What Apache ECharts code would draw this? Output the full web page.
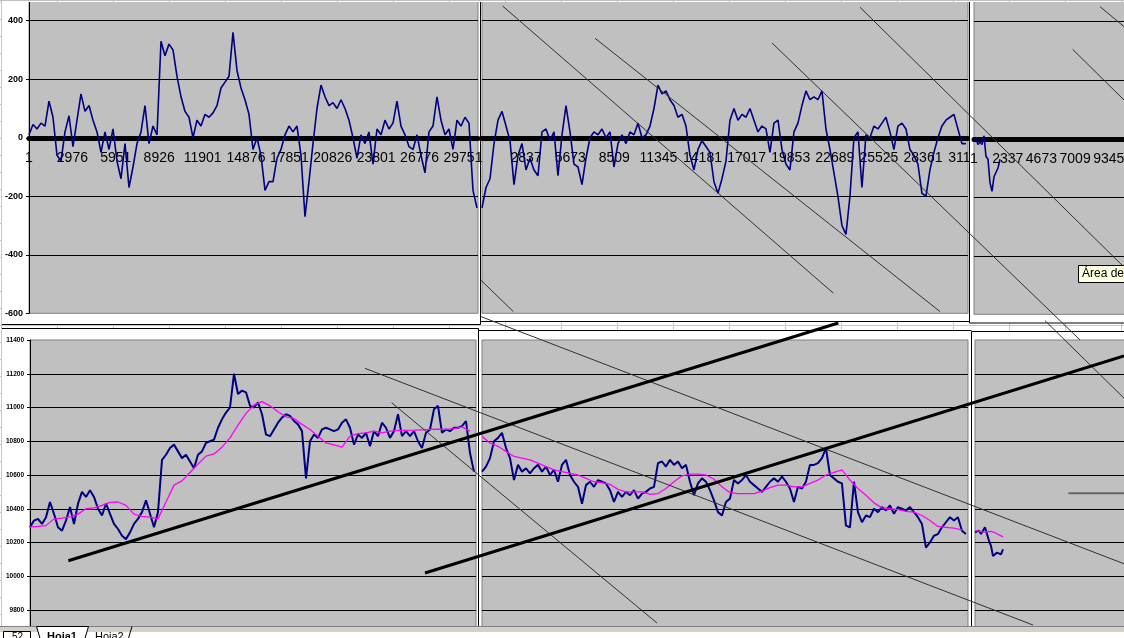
<!DOCTYPE html>
<html><head><meta charset="utf-8">
<script src="https://cdn.jsdelivr.net/npm/echarts@6/dist/echarts.min.js"></script>
<style>html,body{margin:0;padding:0;background:#fff;overflow:hidden}#c{width:1124px;height:638px}</style>
</head><body><div id="c"></div>
<script>
// ================= DATA =================
// Oscillator (top row), one value every sample step
const oscA = [
  10, 45, 30, 50, 40, 125, 70, -60, -80, 20,
  75, -30, 60, 150, 90, 110, 60, 20, -50, 20,
  -40, 30, -80, -140, -20, -170, -100, -20, 20, 110,
  -20, 40, 10, 330, 280, 320, 300, 210, 140, 90,
  70, 0, 60, 40, 80, 70, 85, 110, 170, 190,
  210, 360, 230, 170, 130, 80, -40, 0, -60, -180,
  -150, -150, -70, -40, 10, 40, 20, 40, -60, -270,
  -150, -20, 100, 180, 140, 110, 120, 100, 130, 100,
  60, 0, -70, 10, -20, 20, -90, 30, 10, 60,
  30, 50, 125, 40, 10, -30, -40, 10, -60, -120,
  20, 40, 140, 60, 10, 30, -40, 60, 40, 70,
  50, -180, -240
];
const oscB = [
  -240, -170, -140, -20, 60, 90, 40, -10, -160, -60,
  -20, -110, -70, -110, -130, 20, 30, -10, 20, -130,
  10, 110, 20, -90, -100, -160, -70, 0, 20, 10,
  30, 0, 20, -100, -20, 10, -20, 20, 10, 50,
  0, 10, 40, 100, 180, 150, 160, 130, 110, 70,
  80, 40, -60, -110, -40, -10, -30, -50, -150, -190,
  -140, -80, 60, 100, 60, 80, 70, 100, 60, 20,
  40, 30, -50, 50, 60, -40, -90, -110, 20, 50,
  110, 160, 130, 140, 130, 160, 30, -40, -120, -200,
  -300, -330, -200, 0, 20, -170, 10, 0, 40, 30,
  50, 70, 20, -40, 40, 50, 30, -40, -60, -90,
  -190, -200, -110, -50, 0, 40, 60, 70, 80, 30,
  -20, -20
];
const oscC = [-10, 0, -20, -10, -20, 10, -60, -70, -150, -180, -130, -130, -100, -70];

// Price (bottom row) and its moving average
const priceD = [
  10290, 10330, 10340, 10310, 10350, 10440, 10370, 10290, 10270, 10330,
  10410, 10310, 10430, 10500, 10470, 10510, 10470, 10400, 10360, 10430,
  10370, 10310, 10280, 10240, 10220, 10260, 10310, 10340, 10380, 10450,
  10370, 10290, 10380, 10690, 10720, 10760, 10780, 10740, 10700, 10720,
  10680, 10640, 10720, 10740, 10790, 10800, 10810, 10880, 10930, 10970,
  11000, 11200, 11080, 11100, 11090, 11010, 11000, 11030, 10960, 10840,
  10830, 10870, 10910, 10940, 10960, 10950, 10920, 10900, 10860, 10580,
  10800, 10840, 10820, 10870, 10880, 10870, 10860, 10870, 10910, 10930,
  10880, 10780, 10840, 10820, 10850, 10770, 10860, 10830, 10910, 10880,
  10820, 10860, 10960, 10830, 10860, 10830, 10860, 10800, 10760, 10850,
  10870, 10990, 11010, 10850, 10870, 10860, 10880, 10880, 10890, 10920,
  10730, 10620
];
const avgD = [
  10292, 10295, 10300, 10340, 10345, 10352, 10368, 10400, 10405, 10420,
  10438, 10440, 10420, 10368, 10355, 10350, 10340, 10440, 10540, 10565,
  10615, 10665, 10712, 10725, 10765, 10820, 10895, 10965, 11015, 11035,
  11010, 10975, 10945, 10935, 10900, 10870, 10830, 10790, 10778, 10765,
  10830, 10845, 10850, 10860, 10850, 10860, 10865, 10865, 10866, 10868,
  10870, 10872, 10870, 10875, 10885, 10860
];
const priceE = [
  10620, 10650, 10700, 10800, 10820, 10850, 10760, 10700, 10570, 10660,
  10620, 10640, 10610, 10640, 10660, 10620, 10650, 10600, 10630, 10560,
  10660, 10690, 10600, 10560, 10530, 10430, 10540, 10560, 10530, 10570,
  10560, 10550, 10510, 10440, 10500, 10470, 10500, 10480, 10510, 10460,
  10490, 10500, 10520, 10530, 10670, 10680, 10650, 10690, 10660, 10680,
  10640, 10660, 10560, 10480, 10550, 10580, 10560, 10510, 10450, 10380,
  10360, 10440, 10460, 10570, 10550, 10570, 10600, 10560, 10540, 10520,
  10500, 10530, 10560, 10580, 10560, 10590, 10560, 10520, 10440, 10530,
  10520, 10560, 10660, 10660, 10670, 10700, 10760, 10600, 10580, 10560,
  10550, 10300, 10290, 10560, 10380, 10320, 10360, 10350, 10400, 10380,
  10410, 10390, 10420, 10370, 10410, 10400, 10390, 10410, 10380, 10350,
  10310, 10170, 10200, 10240, 10250, 10290, 10320, 10350, 10330, 10350,
  10270, 10250
];
const avgE = [
  10830, 10790, 10770, 10740, 10710, 10700, 10690, 10670, 10650, 10630,
  10620, 10610, 10600, 10580, 10560, 10555, 10545, 10515, 10500, 10500,
  10500, 10485, 10490, 10520, 10560, 10595, 10605, 10605, 10600, 10575,
  10530, 10495, 10490, 10490, 10490, 10505, 10525, 10540, 10540, 10530,
  10530, 10550, 10570, 10600, 10615, 10630, 10570, 10520, 10480, 10435,
  10405, 10400, 10395, 10385, 10380, 10360, 10330, 10295, 10290, 10285,
  10275
];
const priceF = [10260, 10250, 10270, 10250, 10260, 10290, 10250, 10210, 10180, 10120, 10110, 10140, 10150, 10130, 10160];
const avgF = [10270, 10268, 10262, 10265, 10266, 10258, 10245, 10233];

// Axis ranges / tick labels
const oscTicks = [-600, -400, -200, 0, 200, 400, 600];
const priceTicks = [9600, 9800, 10000, 10200, 10400, 10600, 10800, 11000, 11200, 11400];
const labelStepA = 2975, labelStepB = 2836, labelStepC = 2336;   // labels 1, 2976, 5951 ... / 1, 2837 ... / 1, 2337 ...
const rangeA = 30780, rangeB = 31254, rangeC = 13864;
const sampleA = 274.2, sampleB = 257.2, sampleC = 138.6, sampleD = 276.05;

// Hand-drawn trend lines (index, value)
// top ones in the top-middle chart's units
const trendTopThin = [
  [[1331, 450], [22592, -531]],
  [[7267, 340], [29453, -594]],
  [[18650, 324], [38457, -691]],
  [[24309, 446], [41286, -442]],
  [[36206, -625], [41286, -890]],
  [[39743, 448], [41286, 380]],
  [[37987, 302], [41286, 129]],
  [[-84, -486], [2013, -594]],
  [[-84, -611], [41286, -1456]]
];
// bottom ones in the bottom-left chart's units
const trendBottomThin = [
  [[23119, 11232], [69220, 9711]],
  [[24962, 11028], [43271, 9723]]
];
const trendBottomThick = [
  [[2643, 10092], [55783, 11501]],
  [[27260, 10019], [75500, 11305]]
];
const trendBottomGrey = [[[71656, 10492], [75500, 10492]]];

// ================= CHART =================
const FONT = '"Liberation Sans", Arial, sans-serif';
const pts = (vals, step) => vals.map((v, i) => [i * step, v]);

const grids = [
  { left: 29,  top: -37.8, width: 449, height: 351.1, z: 2 },
  { left: 482, top: -37.8, width: 486, height: 351.1, z: 2 },
  { left: 974, top: -36.8, width: 200, height: 351.1, z: 6 },
  { left: 30,  top: 340,   width: 446, height: 303.75, z: 2 },
  { left: 482, top: 340,   width: 486, height: 303.75, z: 2 },
  { left: 975, top: 340,   width: 200, height: 303.75, z: 6 },
  // invisible full-width overlays carrying the drawn trend lines (same scales as B and D)
  { left: 0, top: -37.8, width: 1124, height: 351.1, z: 10, show: false },
  { left: 0, top: 340,   width: 1124, height: 303.75, z: 10, show: false }
].map(g => Object.assign({ show: true, backgroundColor: '#C0C0C0', borderColor: '#808080', borderWidth: 1,
  containLabel: false, outerBoundsMode: 'none' }, g));

// zero of the oscillator sits 175.55 px above the grid bottom
const zeroOffset = -175.55;

function topX(gi, max, step, showMin, z, off) {
  return { gridIndex: gi, type: 'value', position: 'bottom', offset: off, min: 0, max: max, interval: step, z: z,
    axisLine: { onZero: false, lineStyle: { color: '#000', width: 5 } },
    axisTick: { show: false }, splitLine: { show: false },
    axisLabel: { formatter: v => String(v + 1), fontSize: 14, color: '#000', fontFamily: FONT,
      margin: 13, showMinLabel: showMin, showMaxLabel: false, hideOverlap: false } };
}
function hidX(gi, min, max, z) {
  return { gridIndex: gi, type: 'value', min: min, max: max, show: false, z: z };
}
function yAx(gi, ticks, showLab, fs, z) {
  return { gridIndex: gi, type: 'value', min: ticks[0], max: ticks[ticks.length - 1], interval: ticks[1] - ticks[0], z: z,
    axisLine: { show: showLab, onZero: false, lineStyle: { color: '#000', width: 1 } },
    axisTick: { show: showLab, length: 3, lineStyle: { color: '#000' } },
    axisLabel: { show: showLab, formatter: v => String(v), fontSize: fs, fontWeight: 'bold', color: '#000', fontFamily: FONT, margin: 6 },
    splitLine: { show: true, showMinLine: false, showMaxLine: false, lineStyle: { color: '#000', width: 1 } } };
}
function hidY(gi, ticks) {
  return { gridIndex: gi, type: 'value', min: ticks[0], max: ticks[ticks.length - 1], show: false };
}
function ln(gi, data, color, width, z, clip) {
  return { type: 'line', xAxisIndex: gi, yAxisIndex: gi, data: data, symbol: 'none', showSymbol: false,
    silent: true, clip: clip, z: z, animation: false, lineStyle: { color: color, width: width } };
}

// overlay x ranges chosen so 1 index unit maps exactly like in chart B / chart D
const ovTopMin = -482 * rangeB / 486, ovTopMax = (1124 - 482) * rangeB / 486;
const ovBotMin = -30 * rangeA / 446,  ovBotMax = (1124 - 30) * rangeA / 446;

const series = [
  ln(0, pts(oscA, sampleA), '#000080', 1.6, 4, true),
  ln(1, pts(oscB, sampleB), '#000080', 1.6, 4, true),
  ln(2, pts(oscC, sampleC), '#000080', 1.6, 8, true),
  ln(3, pts(priceD, sampleD), '#000080', 2, 4, true),
  ln(3, pts(avgD, sampleD * 2), '#FF00FF', 1.3, 4, true),
  ln(4, pts(priceE, sampleB), '#000080', 2, 4, true),
  ln(4, pts(avgE, sampleB * 2), '#FF00FF', 1.3, 4, true),
  ln(5, pts(priceF, sampleC), '#000080', 2, 8, true),
  ln(5, pts(avgF, sampleC * 2), '#FF00FF', 1.3, 8, true)
];
trendTopThin.forEach(t => series.push(ln(6, t, '#303030', 1, 10, false)));
trendBottomThin.forEach(t => series.push(ln(7, t, '#303030', 1, 10, false)));
trendBottomThick.forEach(t => series.push(ln(7, t, '#000', 3, 10, false)));
trendBottomGrey.forEach(t => series.push(ln(7, t, '#666', 2, 10, false)));

// ---- sheet decoration (layout only) ----
const G = [];
const rect = (x, y, w, h, fill, z, stroke) => G.push({ type: 'rect', silent: true, z: z,
  shape: { x: x, y: y, width: w, height: h }, style: { fill: fill, stroke: stroke || null, lineWidth: 1 } });
const seg = (x1, y1, x2, y2, col, z, w) => G.push({ type: 'line', silent: true, z: z,
  shape: { x1: x1, y1: y1, x2: x2, y2: y2 }, style: { stroke: col, lineWidth: w || 1 } });
const txt = (x, y, s, font, z) => G.push({ type: 'text', silent: true, z: z, x: x, y: y,
  style: { text: s, font: font, fill: '#000', textVerticalAlign: 'top', verticalAlign: 'top' } });

rect(0, 0, 1124, 638, '#FFFFFF', 0);
for (let x = 1.5; x < 1124; x += 56) seg(x, 0, x, 638, '#C8C8C8', 0.5);
for (let y = 325.5; y < 638; y += 17) seg(0, y, 1124, y, '#C8C8C8', 0.5);
for (let y = 308.5; y > 0; y -= 17) seg(0, y, 1124, y, '#C8C8C8', 0.5);
// chart areas
rect(2, 2, 478.5, 322.5, '#FFFFFF', 1);
rect(480.5, 2, 489, 319.5, '#FFFFFF', 1);
rect(969.5, 2, 160, 321, '#FFFFFF', 5);
rect(2, 328.5, 476.5, 320, '#FFFFFF', 1);
rect(478.5, 330.5, 493, 320, '#FFFFFF', 1);
rect(971.5, 331.5, 160, 320, '#FFFFFF', 5);
// chart borders
seg(480.5, 2, 480.5, 324.5, '#000', 1.5);
seg(2, 324.5, 480.5, 324.5, '#000', 1.5);
seg(480.5, 321.5, 969.5, 321.5, '#000', 1.5);
seg(969.5, 0, 969.5, 323, '#000', 5.5);
seg(969.5, 323, 1124, 323, '#000', 5.5);
seg(2, 328.5, 478.5, 328.5, '#000', 1.5);
seg(478.5, 328.5, 478.5, 638, '#000', 1.5);
seg(478.5, 330.5, 971.5, 330.5, '#000', 1.5);
seg(971.5, 331.5, 971.5, 638, '#000', 5.5);
seg(971.5, 331.5, 1124, 331.5, '#000', 5.5);
// top strip of sheet above charts
rect(0, 0, 1124, 2, '#FFFFFF', 9);
seg(0, 0.5, 1124, 0.5, '#C0C0C0', 9);
for (let x = 1.5; x < 1124; x += 56) seg(x, 0, x, 2, '#C0C0C0', 9);
// tooltip
rect(1078.5, 265.5, 60, 17, '#FFFFE1', 12, '#000');
txt(1082, 268, 'Área de', '12px "Liberation Sans", Arial, sans-serif', 13);
// sheet tabs bar
rect(0, 626, 1124, 6, '#D4D0C8', 12);
rect(0, 632, 1124, 6, '#FFFFFF', 12);
seg(0, 626.5, 1124, 626.5, '#808080', 12);
rect(3.5, 631.5, 27, 10, '#FFFFFF', 12, '#000');
txt(12, 632, '52', '10px "Liberation Sans", Arial, sans-serif', 13);
G.push({ type: 'polygon', silent: true, z: 12, shape: { points: [[36.5, 626.5], [40.5, 640], [84.5, 640], [88.5, 626.5]] },
  style: { fill: '#FFFFFF', stroke: '#000', lineWidth: 1 } });
seg(128, 640, 132, 626.5, '#000', 12);
txt(47, 631, 'Hoja1', 'bold 11px "Liberation Sans", Arial, sans-serif', 13);
txt(95, 631, 'Hoja2', '11px "Liberation Sans", Arial, sans-serif', 13);

const option = {
  animation: false,
  backgroundColor: '#FFFFFF',
  grid: grids,
  xAxis: [
    topX(0, rangeA, labelStepA, true, 3, zeroOffset),
    topX(1, rangeB, labelStepB, false, 3, zeroOffset),
    topX(2, rangeC, labelStepC, true, 7, zeroOffset),
    hidX(3, 0, rangeA, 3),
    hidX(4, 0, rangeB, 3),
    hidX(5, 0, rangeC, 7),
    hidX(6, ovTopMin, ovTopMax, 10),
    hidX(7, ovBotMin, ovBotMax, 10)
  ],
  yAxis: [
    yAx(0, oscTicks, true, 9, 3),
    yAx(1, oscTicks, false, 9, 3),
    yAx(2, oscTicks, false, 9, 7),
    yAx(3, priceTicks, true, 6.5, 3),
    yAx(4, priceTicks, false, 6.5, 3),
    yAx(5, priceTicks, false, 6.5, 7),
    hidY(6, oscTicks),
    hidY(7, priceTicks)
  ],
  graphic: { elements: G },
  series: series
};
const chart = echarts.init(document.getElementById('c'), null, { renderer: 'canvas' });
chart.setOption(option);
</script></body></html>
